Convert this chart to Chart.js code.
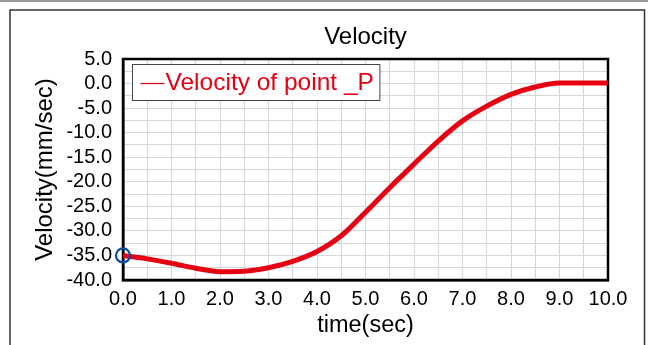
<!DOCTYPE html>
<html>
<head>
<meta charset="utf-8">
<script src="https://cdn.jsdelivr.net/npm/chart.js@4/dist/chart.umd.min.js"></script>
<style>
html,body{margin:0;padding:0;background:#fff;}
#wrap{width:648px;height:345px;position:relative;}
</style>
</head>
<body>
<div id="wrap"><canvas id="c" width="648" height="345"></canvas></div>
<script>
const times = [0.0,0.5,1.0,1.5,2.0,2.5,3.0,3.5,4.0,4.5,5.0,5.5,6.0,6.5,7.0,7.5,8.0,8.5,9.0,9.5,10.0];
const velocity = [-35.0,-35.7,-36.6,-37.6,-38.3,-38.2,-37.5,-36.2,-34.2,-31.0,-26.2,-21.2,-16.4,-11.7,-7.6,-4.6,-2.2,-0.7,0.1,0.1,0.1];
const markedPoint = [{x:0.0, y:-35.0}];
const seriesLabel = 'Velocity of point _P';
const chartTitle = 'Velocity';
const xTitle = 'time(sec)';
const yTitle = 'Velocity(mm/sec)';

const FONT = "'Liberation Sans',Arial,sans-serif";
const RED = '#e60012';

const framePlugin = {
  id:'frame',
  beforeDraw(chart){
    const ctx = chart.ctx;
    ctx.save();
    ctx.fillStyle='#fff';
    ctx.fillRect(0,0,chart.width,chart.height);
    ctx.strokeStyle='#9a9a9a';
    ctx.lineWidth=2;
    ctx.beginPath();ctx.moveTo(0,1);ctx.lineTo(chart.width,1);ctx.stroke();
    ctx.strokeStyle='#333';
    ctx.lineWidth=1.5;
    ctx.strokeRect(10,10,634.5,400);
    ctx.restore();
  },
  beforeDatasetsDraw(chart){
    const ctx = chart.ctx, a = chart.chartArea;
    ctx.save();
    ctx.strokeStyle='#000';
    ctx.lineWidth=2.5;
    ctx.strokeRect(a.left,a.top,a.right-a.left,a.bottom-a.top);
    ctx.restore();
  },
  afterDatasetsDraw(chart){
    const ctx = chart.ctx, a = chart.chartArea;
    ctx.save();
    const ds = chart.data.datasets[0];
    ctx.font = "24.5px " + FONT;
    const tw = ctx.measureText(ds.label).width;
    const bx = a.left+9.5, by = a.top+5.5, bh = 36, lineW = 24;
    const bw = 8 + lineW + tw + 7;
    ctx.fillStyle='#fff';
    ctx.fillRect(bx,by,bw,bh);
    ctx.strokeStyle='#444';
    ctx.lineWidth=1;
    ctx.strokeRect(bx,by,bw,bh);
    ctx.strokeStyle=RED;
    ctx.lineWidth=1.2;
    ctx.beginPath();ctx.moveTo(bx+8,by+bh/2+1);ctx.lineTo(bx+8+lineW,by+bh/2+1);ctx.stroke();
    ctx.fillStyle=RED;
    ctx.textBaseline='middle';
    ctx.textAlign='left';
    ctx.fillText(ds.label,bx+8+lineW+1,by+bh/2+1);
    ctx.restore();
  }
};

new Chart(document.getElementById('c'),{
  type:'line',
  data:{
    datasets:[
      {label:seriesLabel,data:times.map((t,i)=>({x:t,y:velocity[i]})),borderColor:RED,backgroundColor:RED,borderWidth:5,pointRadius:0,cubicInterpolationMode:'monotone',order:2},
      {label:'marker',data:markedPoint,showLine:false,clip:false,pointRadius:7,pointBorderWidth:2.2,pointBorderColor:'#0a4ea0',pointBackgroundColor:'rgba(0,0,0,0)',order:1}
    ]
  },
  options:{
    responsive:false,
    animation:false,
    devicePixelRatio:1,
    layout:{padding:{left:0,right:40,top:0,bottom:0}},
    plugins:{
      legend:{display:false},
      tooltip:{enabled:false},
      title:{display:true,fullSize:false,text:chartTitle,color:'#000',font:{family:FONT,size:24,weight:'normal'},padding:{top:22.6,bottom:7.6}}
    },
    scales:{
      x:{type:'linear',min:0,max:10,
        ticks:{stepSize:0.5,autoSkip:false,maxRotation:0,color:'#000',padding:7,font:{family:FONT,size:20},
          callback:v=>(Math.abs(v-Math.round(v))<1e-6)?v.toFixed(1):''},
        grid:{color:'#d6d6d6',lineWidth:1,drawTicks:false},
        border:{color:'#000',width:2.5},
        title:{display:true,text:xTitle,color:'#000',font:{family:FONT,size:23.5},padding:{top:0,bottom:5.6}},
        afterFit(s){s.height=65;}
      },
      y:{type:'linear',min:-40,max:5,
        ticks:{stepSize:2.5,autoSkip:false,color:'#000',padding:11,font:{family:FONT,size:20},
          callback:v=>(Math.abs(v/5-Math.round(v/5))<1e-6)?v.toFixed(1):''},
        grid:{color:'#d6d6d6',lineWidth:1,drawTicks:false},
        border:{color:'#000',width:2.5},
        title:{display:true,text:yTitle,color:'#000',font:{family:FONT,size:24},padding:{top:30.6,bottom:0}},
        afterFit(s){s.width=123;}
      }
    }
  },
  plugins:[framePlugin]
});
</script>
</body>
</html>
